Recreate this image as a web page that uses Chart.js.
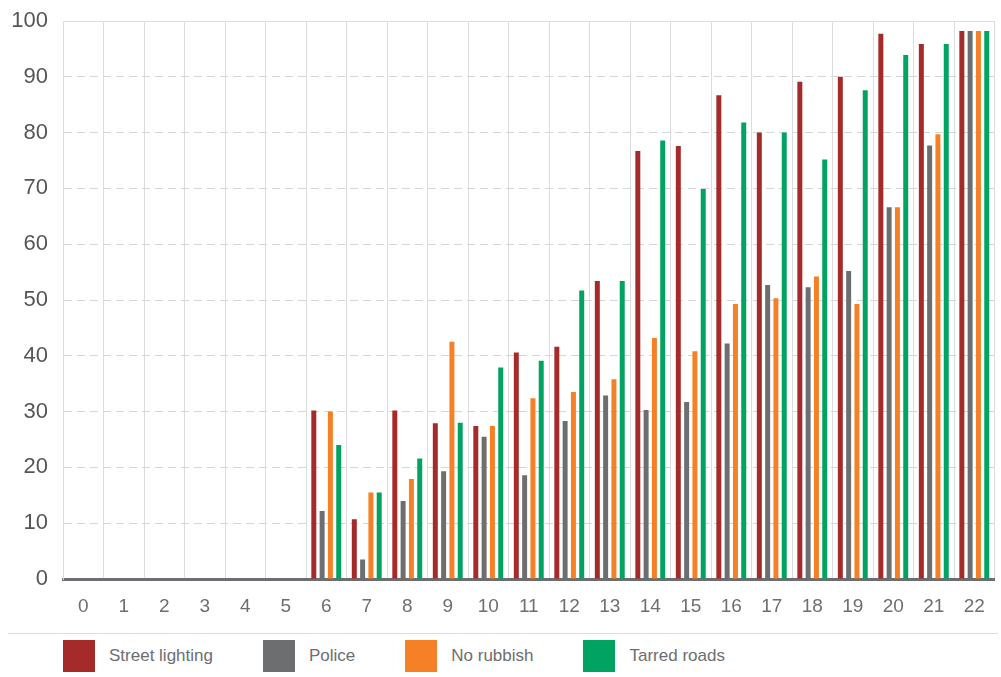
<!DOCTYPE html>
<html>
<head>
<meta charset="utf-8">
<script src="https://cdn.jsdelivr.net/npm/chart.js@4"></script>
<style>
    body { margin: 0; background: #fff; font-family: "Liberation Sans", Arial, sans-serif; }
    #wrap { width: 1001px; height: 677px; position: relative; }
    #legend {
        position: absolute; left: 8px; right: 3px; top: 633px;
        border-top: 1px solid #dcdcdc;
        display: flex; align-items: center; padding-left: 55px; height: 43px;
    }
    .item { display: flex; align-items: center; margin-right: 50px; color: #6d6e71; font-size: 17px; }
    .box { width: 32px; height: 32px; margin-right: 14px; }
</style>
</head>
<body>
<div id="wrap">
    <canvas id="chart" width="1001" height="633"></canvas>
    <div id="legend"></div>
</div>
<script>
const categorias = ["0","1","2","3","4","5","6","7","8","9","10","11","12","13","14","15","16","17","18","19","20","21","22"];
const series = ["Street lighting", "Police", "No rubbish", "Tarred roads"];
const colores = ["#a52a2a", "#6d6e70", "#f58025", "#00a361"];

const alumbrado = [null,null,null,null,null,null,30.2,10.7,30.2,27.9,27.4,40.6,41.6,53.4,76.7,77.6,86.7,80.0,89.1,90.0,97.7,95.9,98.2];
const policia   = [null,null,null,null,null,null,12.2,3.5,14.0,19.3,25.5,18.6,28.3,32.9,30.3,31.7,42.2,52.7,52.3,55.2,66.6,77.7,98.2];
const basura    = [null,null,null,null,null,null,30.0,15.5,17.9,42.5,27.4,32.4,33.5,35.8,43.2,40.8,49.3,50.3,54.2,49.3,66.6,79.7,98.2];
const caminos   = [null,null,null,null,null,null,24.0,15.5,21.6,28.0,37.9,39.1,51.7,53.4,78.6,69.9,81.8,80.0,75.2,87.6,93.9,95.9,98.2];

const valores = [alumbrado, policia, basura, caminos];

const datasets = series.map((nombre, i) => ({
    label: nombre,
    data: valores[i],
    backgroundColor: colores[i],
    categoryPercentage: 0.82,
    barPercentage: 0.6
}));

new Chart(document.getElementById("chart"), {
    type: 'bar',
    data: { labels: categorias, datasets },
    options: {
        responsive: false,
        animation: false,
        layout: { autoPadding: false, padding: { top: 21, right: 0, left: 0, bottom: 0 } },
        plugins: { legend: { display: false }, tooltip: { enabled: false } },
        scales: {
            x: {
                grid: { color: "#dcdcdc", lineWidth: 1, drawTicks: false, offset: true },
                border: { color: "#6d6e71", width: 3 },
                ticks: { color: "#6d6e71", font: { size: 19, family: "'Liberation Sans', Arial" }, padding: 16 },
                afterFit: s => { s.height = 54; }
            },
            x2: {
                type: 'category',
                position: 'top',
                labels: categorias,
                grid: { drawOnChartArea: false, drawTicks: false },
                border: { color: "#dcdcdc", width: 1 },
                ticks: { display: false },
                afterFit: s => { s.height = 0; }
            },
            y: {
                min: 0,
                max: 100,
                ticks: { stepSize: 10, color: "#555658", font: { size: 22, family: "'Liberation Sans', Arial" }, padding: 15 },
                grid: { color: "#d6d6d6", drawTicks: false },
                border: { color: "#dcdcdc", width: 1, dash: [8, 5] },
                // el padding de las etiquetas empuja el area hacia abajo, lo anulo
                afterFit: s => { s.width = 63; s.paddingTop = 0; s.paddingBottom = 0; }
            }
        }
    }
});

const legend = document.getElementById("legend");
series.forEach((nombre, i) => {
    const item = document.createElement("div");
    item.className = "item";
    item.innerHTML = `<span class="box" style="background:${colores[i]}"></span>${nombre}`;
    legend.appendChild(item);
});
</script>
</body>
</html>
